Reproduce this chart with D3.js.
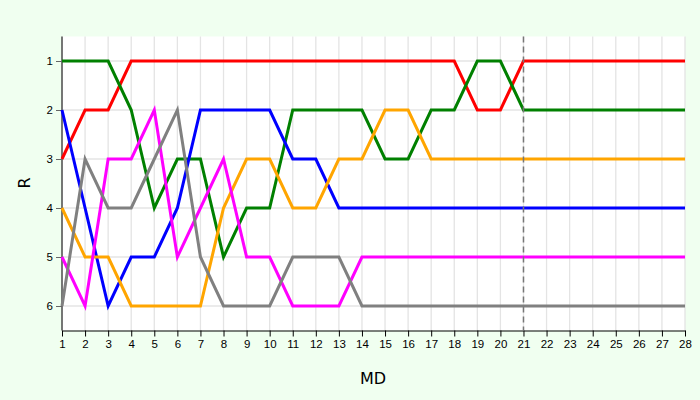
<!DOCTYPE html>
<html><head><meta charset="utf-8">
<script src="https://cdn.jsdelivr.net/npm/d3@7"></script>
<style>body{margin:0;background:#f0fff0;font-family:"DejaVu Sans",sans-serif;}</style>
</head><body><svg id="c" width="700" height="400"></svg>
<script>
const md = d3.range(1, 29);
const red     = [3,2,2,1,1,1,1,1,1,1,1,1,1,1,1,1,1,1,2,2,1,1,1,1,1,1,1,1];
const green   = [1,1,1,2,4,3,3,5,4,4,2,2,2,2,3,3,2,2,1,1,2,2,2,2,2,2,2,2];
const blue    = [2,4,6,5,5,4,2,2,2,2,3,3,4,4,4,4,4,4,4,4,4,4,4,4,4,4,4,4];
const orange  = [4,5,5,6,6,6,6,4,3,3,4,4,3,3,2,2,3,3,3,3,3,3,3,3,3,3,3,3];
const magenta = [5,6,3,3,2,5,4,3,5,5,6,6,6,5,5,5,5,5,5,5,5,5,5,5,5,5,5,5];
const gray    = [6,3,4,4,3,2,5,6,6,6,5,5,5,6,6,6,6,6,6,6,6,6,6,6,6,6,6,6];
const series = [
  {name: "red", color: "red", values: red},
  {name: "green", color: "green", values: green},
  {name: "blue", color: "blue", values: blue},
  {name: "orange", color: "orange", values: orange},
  {name: "magenta", color: "magenta", values: magenta},
  {name: "gray", color: "gray", values: gray}
];
const ranks = [1,2,3,4,5,6];
const markerMD = 21;

const svg = d3.select("#c");
const x = d3.scaleLinear().domain([1, 28]).range([62, 685]);
const y = d3.scaleLinear().domain([0.5, 6.5]).range([36.5, 330.5]);

svg.append("rect").attr("x", 62).attr("y", 36.5).attr("width", 623).attr("height", 294).attr("fill", "white");

svg.append("g").selectAll("line").data(md).join("line")
  .attr("x1", d => x(d)).attr("x2", d => x(d)).attr("y1", 36.5).attr("y2", 330.5)
  .attr("stroke", "#e4e4e4").attr("stroke-width", 1.3);
svg.append("g").selectAll("line").data(ranks).join("line")
  .attr("x1", 62).attr("x2", 685).attr("y1", d => y(d)).attr("y2", d => y(d))
  .attr("stroke", "#e4e4e4").attr("stroke-width", 1.3);

svg.append("g").attr("transform", "translate(0,330.5)")
  .call(d3.axisBottom(x).tickValues(md).tickFormat(d3.format("d")).tickSizeOuter(0))
  .call(g => g.selectAll("text").attr("font-size", 11.5).attr("fill", "#000"));
svg.append("g").attr("transform", "translate(62,0)")
  .call(d3.axisLeft(y).tickValues(ranks).tickFormat(d3.format("d")).tickSizeOuter(0))
  .call(g => g.select(".domain").attr("d", "M0,36.5V330.5"))
  .call(g => g.selectAll(".tick line").attr("stroke", "#666"))
  .call(g => g.selectAll("text").attr("font-size", 11.5).attr("fill", "#000"));

const line = d3.line().x((d, i) => x(md[i])).y(d => y(d));
svg.append("g").selectAll("path").data(series).join("path")
  .attr("d", s => line(s.values)).attr("fill", "none")
  .attr("stroke", s => s.color).attr("stroke-width", 3);

svg.append("line").attr("x1", x(markerMD)).attr("x2", x(markerMD))
  .attr("y1", 36.5).attr("y2", 330.5)
  .attr("stroke", "#777").attr("stroke-width", 1.5).attr("stroke-dasharray", "6,4");

svg.append("text").attr("x", 373).attr("y", 384).attr("text-anchor", "middle")
  .attr("font-size", 16).text("MD");
svg.append("text").attr("transform", "translate(30,183) rotate(-90)")
  .attr("text-anchor", "middle").attr("font-size", 16).text("R");
</script></body></html>
